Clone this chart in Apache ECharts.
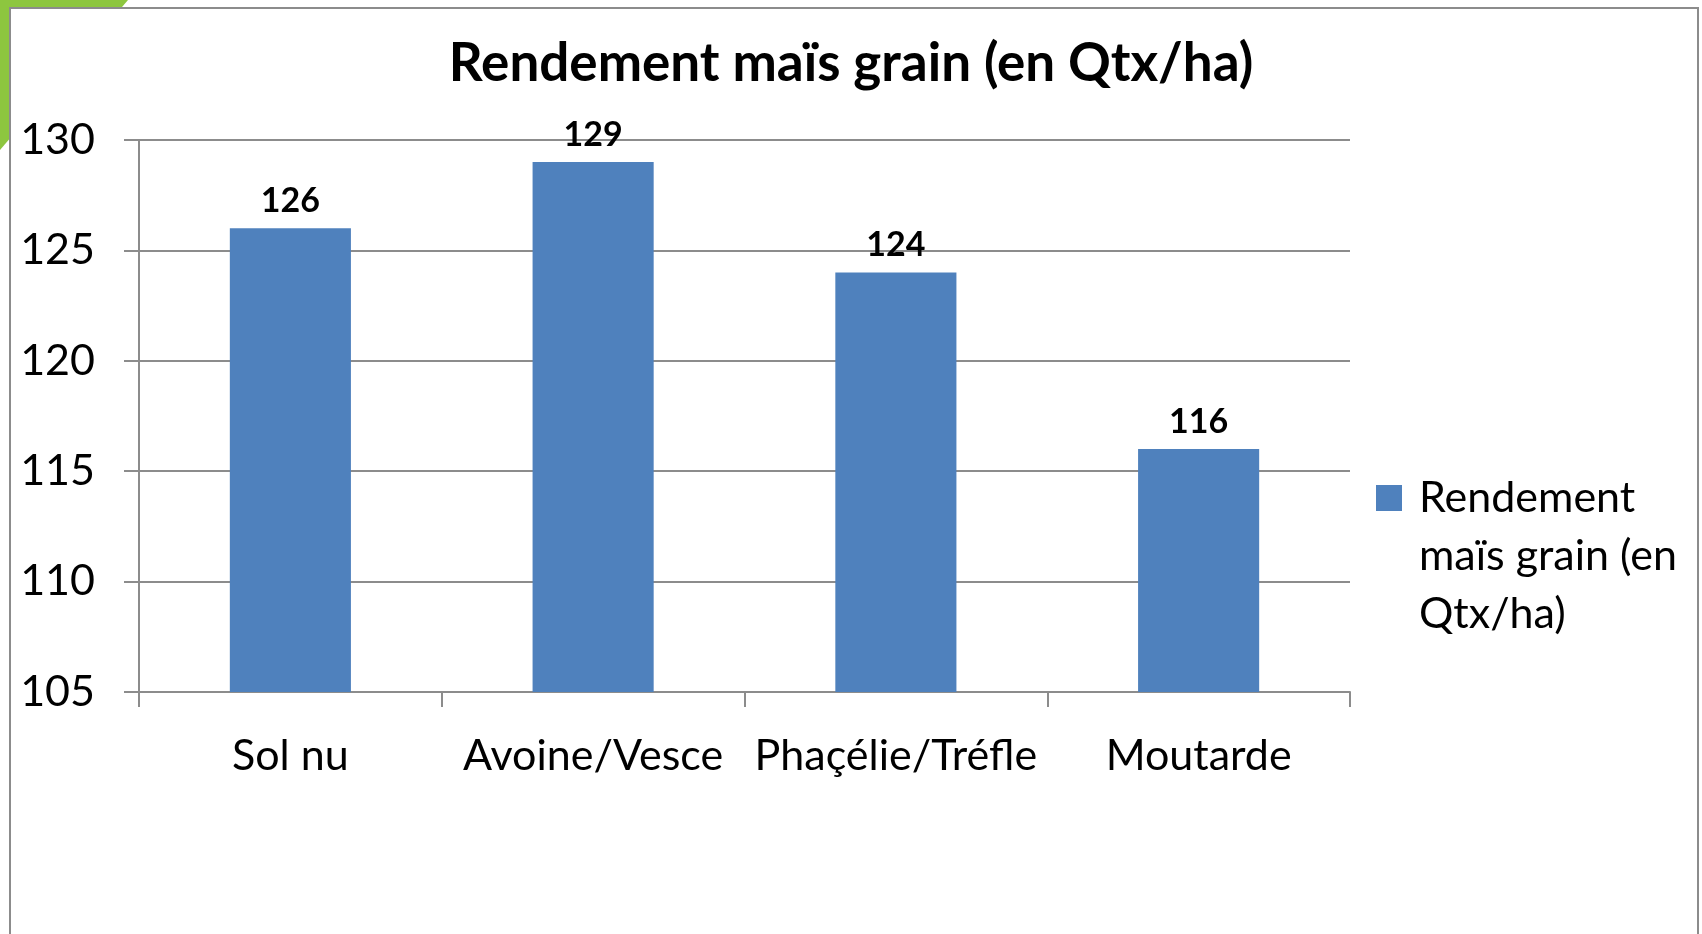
<!DOCTYPE html>
<html>
<head>
<meta charset="utf-8">
<script src="https://cdn.jsdelivr.net/npm/echarts@6/dist/echarts.min.js"></script>
<style>
	html, body { margin: 0; padding: 0; background: #fff; }
	#chart { width: 1702px; height: 934px; }
</style>
</head>
<body>
<div id="chart"></div>
<script>
// données
var categories = ['Sol nu', 'Avoine/Vesce', 'Phaçélie/Tréfle', 'Moutarde'];
var rendement = [126, 129, 124, 116];
var seriesName = 'Rendement maïs grain (en Qtx/ha)';
var yTicks = [105, 110, 115, 120, 125, 130];

var font = 'Lato, "Noto Sans", sans-serif';
var gris = '#8c8c8c';

var myChart = echarts.init(document.getElementById('chart'));
var option = {
	backgroundColor: '#fff',
	animation: false,
	// cadre + coin vert
	graphic: [{
		type: 'polygon',
		z: -10,
		shape: { points: [[0, 0], [128, 0], [0, 150]] },
		style: { fill: '#8dc63f' }
	}, {
		type: 'rect',
		z: -9,
		shape: { x: 10, y: 8, width: 1688, height: 960 },
		style: { fill: '#fff', stroke: gris, lineWidth: 2 }
	}],
	title: {
		text: seriesName,
		left: 'center',
		top: 32,
		textStyle: { fontFamily: font, fontWeight: 'bold', fontSize: 53, color: '#000' }
	},
	legend: {
		data: [seriesName],
		orient: 'vertical',
		left: 1371,
		top: 348,
		itemWidth: 26,
		itemHeight: 26,
		icon: 'rect',
		// deux lignes vides en tête : la 1re ligne du texte tombe face au carré
		formatter: function() {
			return '\n\nRendement\nmaïs grain (en\nQtx/ha)';
		},
		textStyle: {
			fontFamily: font,
			fontSize: 43,
			lineHeight: 58,
			color: '#000',
			padding: [0, 0, 0, 12]
		}
	},
	grid: {
		left: 139,
		right: 352,
		top: 140,
		bottom: 242,
		containLabel: false
	},
	xAxis: [{
		type: 'category',
		data: categories,
		axisLine: { lineStyle: { color: gris, width: 2 } },
		axisTick: { show: true, length: 15, lineStyle: { color: gris, width: 2 } },
		axisLabel: { fontFamily: font, fontSize: 43, color: '#000', margin: 43, interval: 0 }
	}],
	yAxis: [{
		type: 'value',
		min: yTicks[0],
		max: yTicks[yTicks.length - 1],
		interval: 5,
		axisLine: { show: true, lineStyle: { color: gris, width: 2 } },
		axisTick: { show: true, length: 15, lineStyle: { color: gris, width: 2 } },
		splitLine: { lineStyle: { color: gris, width: 2 } },
		axisLabel: { fontFamily: font, fontSize: 43, color: '#000', margin: 44 }
	}],
	series: [{
		name: seriesName,
		type: 'bar',
		barWidth: '40%',
		itemStyle: { color: '#4f81bd' },
		label: {
			show: true,
			position: 'top',
			distance: 10,
			fontFamily: font,
			fontWeight: 'bold',
			fontSize: 34,
			color: '#000'
		},
		data: rendement
	}]
};
myChart.setOption(option);
</script>
</body>
</html>
